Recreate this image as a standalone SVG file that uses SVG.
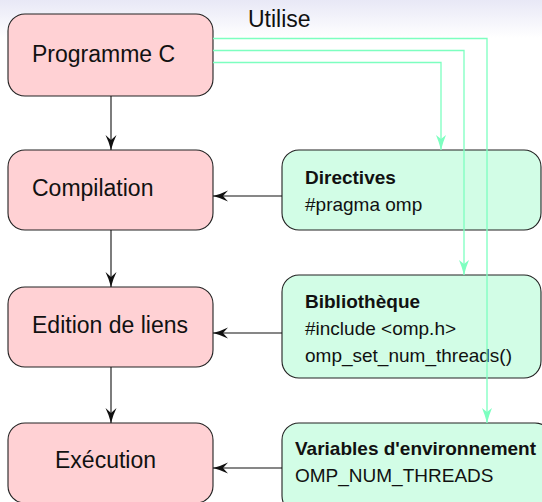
<svg xmlns="http://www.w3.org/2000/svg" width="542" height="502" viewBox="0 0 542 502">
  <defs>
    <linearGradient id="header" x1="0" y1="0" x2="0" y2="1">
      <stop offset="0" stop-color="#e8e8f6"/>
      <stop offset="1" stop-color="#ffffff"/>
    </linearGradient>
    <marker id="arrow-black" markerUnits="userSpaceOnUse" viewBox="-17 -7 18 14" refX="0" refY="0" markerWidth="18" markerHeight="14" orient="auto">
      <path d="M-15,-5.5 Q-8,-2 0,0 Q-8,2 -15,5.5 L-10,0 z" fill="#111"/>
    </marker>
    <marker id="arrow-green" markerUnits="userSpaceOnUse" viewBox="-17 -7 18 14" refX="0" refY="0" markerWidth="18" markerHeight="14" orient="auto">
      <path d="M-15,-5 Q-8,-2 0,0 Q-8,2 -15,5 L-11,0 z" fill="#7dffc0"/>
    </marker>
    <style>
      .step rect { fill: #ffd1d4; stroke: #222; stroke-width: 1.1; }
      .tool rect { fill: #d2fde6; stroke: #222; stroke-width: 1.1; }
      .label { font-family: "Liberation Sans", Arial, sans-serif; font-size: 23px; fill: #111; }
      .info { font-family: "Liberation Sans", Arial, sans-serif; font-size: 19px; fill: #111; }
      .info .title { font-weight: bold; }
      .flow { stroke: #111; stroke-width: 1.1; fill: none; marker-end: url(#arrow-black); }
      .uses { stroke: #7dffc0; stroke-width: 1.3; fill: none; marker-end: url(#arrow-green); }
    </style>
  </defs>

  <rect x="0" y="0" width="542" height="502" fill="#ffffff"/>
  <rect x="0" y="0" width="542" height="38" fill="url(#header)"/>

  <!-- build steps -->
  <g id="programme" class="step">
    <rect x="8" y="14" width="205" height="82" rx="17"/>
    <text class="label" x="32" y="62">Programme C</text>
  </g>
  <g id="compilation" class="step">
    <rect x="8" y="150" width="205" height="80" rx="17"/>
    <text class="label" x="32" y="196">Compilation</text>
  </g>
  <g id="edition" class="step">
    <rect x="8" y="287" width="205" height="80" rx="17"/>
    <text class="label" x="32" y="333">Edition de liens</text>
  </g>
  <g id="execution" class="step">
    <rect x="8" y="423" width="205" height="80" rx="17"/>
    <text class="label" x="55" y="468">Exécution</text>
  </g>

  <!-- OpenMP pieces -->
  <g id="directives" class="tool">
    <rect x="282" y="150" width="259" height="80" rx="17"/>
    <text class="info" x="305" y="184"><tspan class="title">Directives</tspan></text>
    <text class="info" x="305" y="211">#pragma omp</text>
  </g>
  <g id="bibliotheque" class="tool">
    <rect x="282" y="275" width="259" height="103" rx="17"/>
    <text class="info" x="305" y="308"><tspan class="title">Bibliothèque</tspan></text>
    <text class="info" x="305" y="335">#include &lt;omp.h&gt;</text>
    <text class="info" x="305" y="362">omp_set_num_threads()</text>
  </g>
  <g id="variables" class="tool">
    <rect x="282" y="423" width="270" height="90" rx="17"/>
    <text class="info" x="295" y="455"><tspan class="title">Variables d'environnement</tspan></text>
    <text class="info" x="295" y="482">OMP_NUM_THREADS</text>
  </g>

  <!-- connectors -->
  <g id="connectors">
    <line class="flow" x1="111" y1="96" x2="111" y2="150"/>
    <line class="flow" x1="111" y1="230" x2="111" y2="287"/>
    <line class="flow" x1="111" y1="367" x2="111" y2="423"/>
    <line class="flow" x1="282" y1="196" x2="213" y2="196"/>
    <line class="flow" x1="282" y1="333" x2="213" y2="333"/>
    <line class="flow" x1="282" y1="468" x2="213" y2="468"/>
    <polyline class="uses" points="213,62.5 441,62.5 441,150"/>
    <polyline class="uses" points="213,50.5 464,50.5 464,275"/>
    <polyline class="uses" points="213,38.5 487,38.5 487,423"/>
    <text class="label" x="248" y="27">Utilise</text>
  </g>
</svg>
